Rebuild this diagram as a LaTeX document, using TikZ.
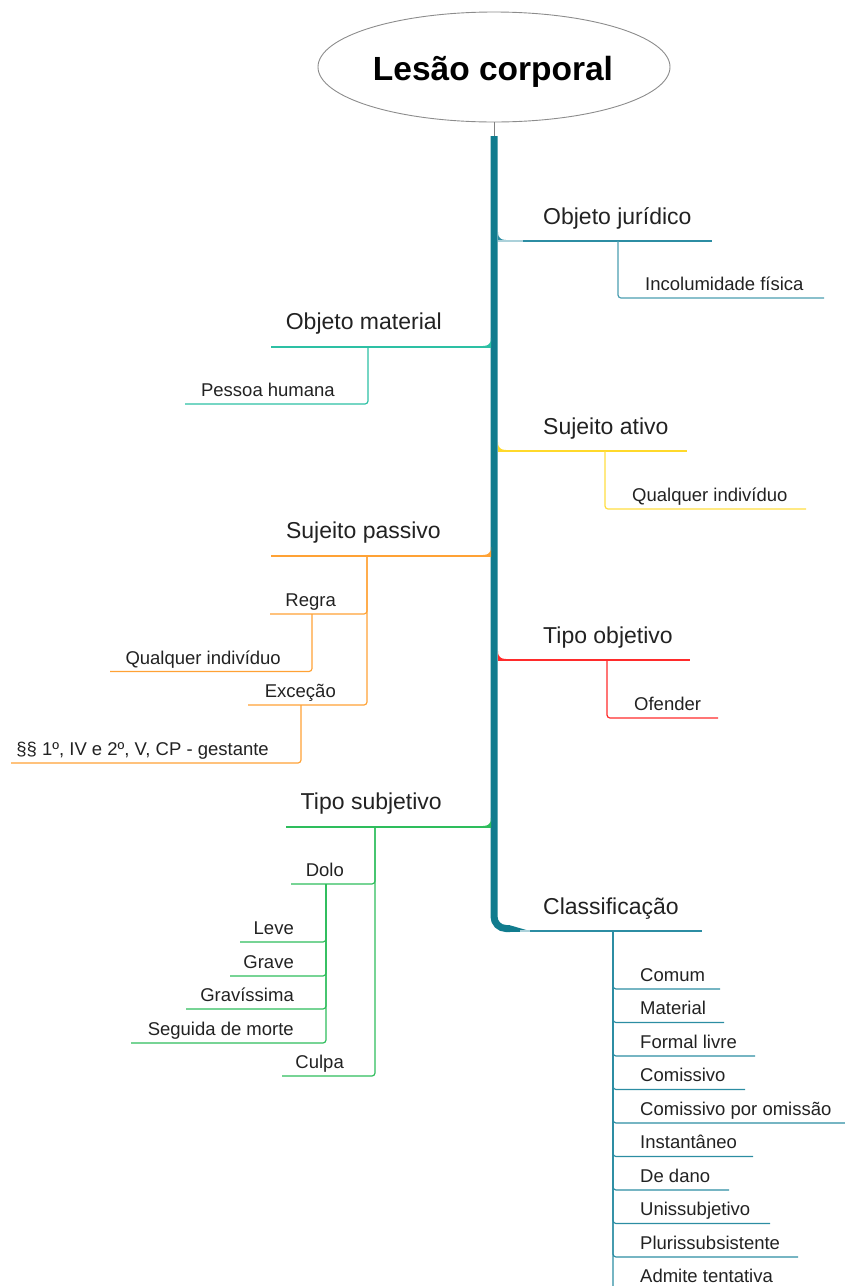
\documentclass[tikz,border=0pt]{standalone}
\usepackage{fontspec}
\setmainfont{Liberation Sans}
\usetikzlibrary{shapes.geometric}

\definecolor{trunkc}{HTML}{117C8E}
\definecolor{ojc}{HTML}{2C8DA3}
\definecolor{omc}{HTML}{2DC0A4}
\definecolor{sac}{HTML}{FFD92B}
\definecolor{spc}{HTML}{FFA235}
\definecolor{toc}{HTML}{FF2B2B}
\definecolor{tsc}{HTML}{2EBD5C}
\definecolor{txt}{HTML}{222222}

\tikzset{
  mainlbl/.style={inner sep=0pt, text=txt, font=\fontsize{23}{27}\selectfont},
  sublbl/.style={inner sep=0pt, text=txt, font=\fontsize{18.5}{22}\selectfont},
  branch/.style={line width=1.5pt},
  twig/.style={line width=1.2pt, rounded corners=3pt},
}

% small tapered joints where a branch leaves the trunk
\newcommand\jointR[2]{\fill[#1] (498,#2-9) .. controls (498,#2-2) and (501,#2-0.8) .. (511,#2-0.8) -- (511,#2+0.8) -- (498,#2+0.8) -- cycle;}
\newcommand\jointL[2]{\fill[#1] (491,#2-9) .. controls (491,#2-2) and (488,#2-0.8) .. (478,#2-0.8) -- (478,#2+0.8) -- (491,#2+0.8) -- cycle;}

\begin{document}
\begin{tikzpicture}[x=1pt,y=-1pt]
\useasboundingbox (0,0) rectangle (845,1286);

% ---------- root ----------
\node[draw=black!45, line width=0.9pt, ellipse, minimum width=352pt, minimum height=110pt, inner sep=0pt] (root) at (494,67) {};
\node[anchor=base, text=black, font=\bfseries\fontsize{33.5}{40}\selectfont] (title) at (493,80) {Lesão corporal};

% ---------- trunk ----------
\coordinate (trunk-top) at (494,136);
\coordinate (trunk-bot) at (509,928.5);
\draw[black!50, line width=0.9pt] (root.south) -- (trunk-top);
\draw[trunkc, line width=7pt, rounded corners=12pt] (trunk-top) |- (trunk-bot);
\fill[trunkc] (509,925) -- (527,930.2) -- (527,931.8) -- (509,932) -- cycle;

% ---------- Objeto jurídico ----------
\jointR{ojc}{241}
\node[mainlbl, anchor=base west] (oj) at (543,224) {Objeto jurídico};
\coordinate (oj-a) at (498,241);
\coordinate (oj-b) at (712,241);
\coordinate (oj-k) at (618,241);
\draw[branch, ojc] (oj-a) -- (oj-b);
\draw[branch, ojc!40] (oj-a) -- ++(25,0);
\node[sublbl, anchor=base west] (ic) at (645,290) {Incolumidade física};
\coordinate (ic-b) at (824,298);
\draw[twig, ojc!85] (oj-k) |- (ic-b);

% ---------- Sujeito ativo ----------
\jointR{sac}{451}
\node[mainlbl, anchor=base west] (sa) at (543,434) {Sujeito ativo};
\coordinate (sa-a) at (498,451);
\coordinate (sa-b) at (687,451);
\coordinate (sa-k) at (605,451);
\draw[branch, sac] (sa-a) -- (sa-b);
\node[sublbl, anchor=base west] (qi1) at (632,501) {Qualquer indivíduo};
\coordinate (qi1-b) at (806,509);
\draw[twig, sac!90] (sa-k) |- (qi1-b);

% ---------- Tipo objetivo ----------
\jointR{toc}{660}
\node[mainlbl, anchor=base west] (to) at (543,643) {Tipo objetivo};
\coordinate (to-a) at (498,660);
\coordinate (to-b) at (690,660);
\coordinate (to-k) at (607,660);
\draw[branch, toc] (to-a) -- (to-b);
\node[sublbl, anchor=base west] (of) at (634,710) {Ofender};
\coordinate (of-b) at (718,718);
\draw[twig, toc] (to-k) |- (of-b);

% ---------- Classificação ----------
\node[mainlbl, anchor=base west] (cl) at (543,914) {Classificação};
\coordinate (cl-a) at (520,931);
\coordinate (cl-b) at (702,931);
\coordinate (cl-k) at (613,931);
\draw[branch, ojc] (cl-a) -- (cl-b);
\draw[branch, ojc!40] (cl-a) -- ++(10,0);
\foreach \t/\r [count=\i from 0] in {Comum/720, Material/724, Formal livre/755, Comissivo/745, Comissivo por omissão/845, Instantâneo/753, De dano/729, Unissubjetivo/770, Plurissubsistente/798, Admite tentativa/800}
{
  \pgfmathsetmacro\yy{989+33.5*\i}
  \node[sublbl, anchor=base west] (cl\i) at (640,\yy-8) {\t};
  \coordinate (cl\i-b) at (\r,\yy);
  \draw[twig, ojc] (cl-k) |- (cl\i-b);
}

% ---------- Objeto material ----------
\jointL{omc}{347}
\node[mainlbl, anchor=base east] (om) at (442,329) {Objeto material};
\coordinate (om-a) at (491,347);
\coordinate (om-b) at (271,347);
\coordinate (om-k) at (368,347);
\draw[branch, omc] (om-a) -- (om-b);
\node[sublbl, anchor=base east] (ph) at (335,396) {Pessoa humana};
\coordinate (ph-b) at (185,404);
\draw[twig, omc] (om-k) |- (ph-b);

% ---------- Sujeito passivo ----------
\jointL{spc}{556}
\node[mainlbl, anchor=base east] (sp) at (441,538) {Sujeito passivo};
\coordinate (sp-a) at (491,556);
\coordinate (sp-b) at (271,556);
\coordinate (sp-k) at (367,556);
\draw[branch, spc] (sp-a) -- (sp-b);
% Regra
\node[sublbl, anchor=base east] (rg) at (336,606) {Regra};
\coordinate (rg-b) at (270,614);
\coordinate (rg-k) at (312,614);
\draw[twig, spc] (sp-k) |- (rg-b);
\node[sublbl, anchor=base east] (qi2) at (281,664) {Qualquer indivíduo};
\coordinate (qi2-b) at (110,671.5);
\draw[twig, spc] (rg-k) |- (qi2-b);
% Exceção
\node[sublbl, anchor=base east] (ex) at (336,697) {Exceção};
\coordinate (ex-b) at (248,705);
\coordinate (ex-k) at (301,705);
\draw[twig, spc] (sp-k) |- (ex-b);
\node[sublbl, anchor=base east] (gs) at (269,755) {§§ 1º, IV e 2º, V, CP - gestante};
\coordinate (gs-b) at (11,763);
\draw[twig, spc] (ex-k) |- (gs-b);

% ---------- Tipo subjetivo ----------
\jointL{tsc}{827}
\node[mainlbl, anchor=base east] (ts) at (442,809) {Tipo subjetivo};
\coordinate (ts-a) at (491,827);
\coordinate (ts-b) at (286,827);
\coordinate (ts-k) at (375,827);
\draw[branch, tsc] (ts-a) -- (ts-b);
% Dolo
\node[sublbl, anchor=base east] (dl) at (344,876) {Dolo};
\coordinate (dl-b) at (291,884);
\coordinate (dl-k) at (326,884);
\draw[twig, tsc] (ts-k) |- (dl-b);
\foreach \t/\l/\y [count=\i] in {Leve/240/942, Grave/230/976, Gravíssima/186/1009, Seguida de morte/131/1043}
{
  \node[sublbl, anchor=base east] (dl\i) at (294,\y-8) {\t};
  \coordinate (dl\i-b) at (\l,\y);
  \draw[twig, tsc] (dl-k) |- (dl\i-b);
}
% Culpa
\node[sublbl, anchor=base east] (cp) at (344,1068) {Culpa};
\coordinate (cp-b) at (282,1076);
\draw[twig, tsc] (ts-k) |- (cp-b);

\end{tikzpicture}
\end{document}
